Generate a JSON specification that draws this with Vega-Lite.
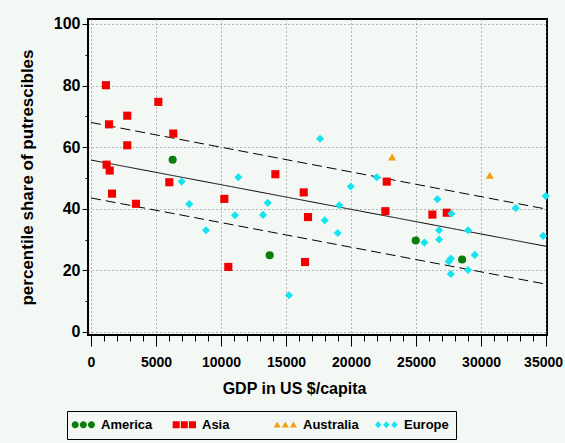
{
  "$schema": "https://vega.github.io/schema/vega-lite/v6.json",
  "width": 459,
  "height": 316,
  "autosize": "none",
  "padding": {"left": 88, "top": 19, "right": 18, "bottom": 108},
  "background": "#f4f8f5",
  "config": {
    "font": "Liberation Sans",
    "view": {"stroke": "#000", "strokeWidth": 2, "fill": "#f4f8f5"}
  },
  "datasets": {
    "pts": [
      {"gdp": 6280, "share": 55.9, "region": "America"},
      {"gdp": 13745, "share": 24.9, "region": "America"},
      {"gdp": 24975, "share": 29.7, "region": "America"},
      {"gdp": 28540, "share": 23.5, "region": "America"},
      {"gdp": 1150, "share": 80.1, "region": "Asia"},
      {"gdp": 5180, "share": 74.7, "region": "Asia"},
      {"gdp": 2790, "share": 70.2, "region": "Asia"},
      {"gdp": 1385, "share": 67.4, "region": "Asia"},
      {"gdp": 6330, "share": 64.4, "region": "Asia"},
      {"gdp": 2790, "share": 60.6, "region": "Asia"},
      {"gdp": 1200, "share": 54.3, "region": "Asia"},
      {"gdp": 1440, "share": 52.4, "region": "Asia"},
      {"gdp": 14180, "share": 51.2, "region": "Asia"},
      {"gdp": 6025, "share": 48.6, "region": "Asia"},
      {"gdp": 1615, "share": 44.9, "region": "Asia"},
      {"gdp": 3460, "share": 41.6, "region": "Asia"},
      {"gdp": 10255, "share": 43.2, "region": "Asia"},
      {"gdp": 16360, "share": 45.3, "region": "Asia"},
      {"gdp": 16690, "share": 37.3, "region": "Asia"},
      {"gdp": 10560, "share": 21.1, "region": "Asia"},
      {"gdp": 16460, "share": 22.7, "region": "Asia"},
      {"gdp": 22745, "share": 48.8, "region": "Asia"},
      {"gdp": 22640, "share": 39.2, "region": "Asia"},
      {"gdp": 26255, "share": 38.1, "region": "Asia"},
      {"gdp": 27360, "share": 38.7, "region": "Asia"},
      {"gdp": 23155, "share": 56.8, "region": "Australia"},
      {"gdp": 30670, "share": 50.9, "region": "Australia"},
      {"gdp": 17615, "share": 62.7, "region": "Europe"},
      {"gdp": 11330, "share": 50.2, "region": "Europe"},
      {"gdp": 6975, "share": 48.8, "region": "Europe"},
      {"gdp": 7560, "share": 41.5, "region": "Europe"},
      {"gdp": 8845, "share": 33.0, "region": "Europe"},
      {"gdp": 11075, "share": 37.9, "region": "Europe"},
      {"gdp": 13230, "share": 38.0, "region": "Europe"},
      {"gdp": 13590, "share": 41.9, "region": "Europe"},
      {"gdp": 17975, "share": 36.2, "region": "Europe"},
      {"gdp": 15230, "share": 11.9, "region": "Europe"},
      {"gdp": 21975, "share": 50.2, "region": "Europe"},
      {"gdp": 19975, "share": 47.2, "region": "Europe"},
      {"gdp": 19100, "share": 41.1, "region": "Europe"},
      {"gdp": 26640, "share": 43.1, "region": "Europe"},
      {"gdp": 27715, "share": 38.4, "region": "Europe"},
      {"gdp": 18975, "share": 32.1, "region": "Europe"},
      {"gdp": 26770, "share": 33.0, "region": "Europe"},
      {"gdp": 26770, "share": 30.0, "region": "Europe"},
      {"gdp": 29000, "share": 33.0, "region": "Europe"},
      {"gdp": 25640, "share": 29.0, "region": "Europe"},
      {"gdp": 27670, "share": 23.8, "region": "Europe"},
      {"gdp": 27515, "share": 22.9, "region": "Europe"},
      {"gdp": 29515, "share": 25.0, "region": "Europe"},
      {"gdp": 29000, "share": 20.1, "region": "Europe"},
      {"gdp": 27670, "share": 18.8, "region": "Europe"},
      {"gdp": 32670, "share": 40.2, "region": "Europe"},
      {"gdp": 34975, "share": 44.1, "region": "Europe"},
      {"gdp": 34770, "share": 31.2, "region": "Europe"}
    ],
    "lines": [
      {"gdp": 0, "share": 55.8, "band": "fit"},
      {"gdp": 35000, "share": 27.8, "band": "fit"},
      {"gdp": 0, "share": 68.0, "band": "upper"},
      {"gdp": 35000, "share": 39.9, "band": "upper"},
      {"gdp": 0, "share": 43.5, "band": "lower"},
      {"gdp": 35000, "share": 15.5, "band": "lower"}
    ]
  },
  "encoding": {
    "x": {
      "field": "gdp",
      "type": "quantitative",
      "scale": {"domain": [-230, 35070], "nice": false, "zero": false},
      "axis": {
        "title": "GDP in US $/capita",
        "values": [0,1000,2000,3000,4000,5000,6000,7000,8000,9000,10000,11000,12000,13000,14000,15000,16000,17000,18000,19000,20000,21000,22000,23000,24000,25000,26000,27000,28000,29000,30000,31000,32000,33000,34000,35000],
        "labelExpr": "datum.value % 5000 === 0 ? '' + datum.value : ''",
        "labelOverlap": false,
        "labelFlush": false,
        "labelBound": false,
        "labelOffset": {"condition": {"test": "datum.value === 35000", "value": -3}, "value": 0},
        "domain": false,
        "grid": true,
        "gridDash": [1, 3],
        "gridColor": "#777777",
        "gridWidth": 1,
        "gridOpacity": {"condition": {"test": "datum.value % 5000 === 0", "value": 1}, "value": 0},
        "tickSize": {"condition": {"test": "datum.value % 5000 === 0", "value": 11}, "value": 6},
        "tickColor": "#000",
        "tickWidth": 1,
        "labelFont": "Liberation Sans",
        "labelFontSize": 14,
        "labelFontWeight": "bold",
        "labelColor": "#000",
        "labelPadding": 9,
        "titleFont": "Liberation Sans",
        "titleFontSize": 16,
        "titleFontWeight": "bold",
        "titleColor": "#000",
        "titlePadding": 11,
        "titleX": 206,
        "titleAlign": "center"
      }
    },
    "y": {
      "field": "share",
      "type": "quantitative",
      "scale": {"domain": [-1, 101.6], "nice": false, "zero": false},
      "axis": {
        "title": "percentile share of putrescibles",
        "values": [0,10,20,30,40,50,60,70,80,90,100],
        "labelExpr": "datum.value % 20 === 0 ? '' + datum.value : ''",
        "labelOverlap": false,
        "labelFlush": false,
        "domain": false,
        "grid": true,
        "gridDash": [1, 3],
        "gridColor": "#777777",
        "gridWidth": 1,
        "gridOpacity": {"condition": {"test": "datum.value % 20 === 0", "value": 1}, "value": 0},
        "tickSize": {"condition": {"test": "datum.value % 20 === 0", "value": 6}, "value": 3},
        "tickColor": "#000",
        "tickWidth": 1,
        "labelFont": "Liberation Sans",
        "labelFontSize": 16,
        "labelFontWeight": "bold",
        "labelColor": "#000",
        "labelPadding": 2,
        "titleFont": "Liberation Sans",
        "titleFontSize": 17,
        "titleFontWeight": "bold",
        "titleColor": "#000",
        "titlePadding": 17
      }
    }
  },
  "resolve": {"scale": {"shape": "independent", "color": "independent"}, "legend": {"shape": "independent", "color": "independent"}},
  "layer": [
    {
      "data": {"name": "lines"},
      "mark": {"type": "line", "color": "#000", "strokeWidth": 1},
      "encoding": {
        "detail": {"field": "band", "type": "nominal"},
        "strokeDash": {
          "field": "band",
          "type": "nominal",
          "scale": {"domain": ["fit", "upper", "lower"], "range": [[1, 0], [10, 5], [10, 5]]},
          "legend": null
        }
      }
    },
    {
      "data": {"name": "pts"},
      "mark": {"type": "point", "filled": true, "size": 66, "opacity": 1},
      "encoding": {
        "color": {
          "field": "region",
          "type": "nominal",
          "scale": {"domain": ["America", "Asia", "Australia", "Europe"], "range": ["#0a7d0a", "#f00000", "#f0a010", "#14e4f0"]},
          "legend": null
        },
        "shape": {
          "field": "region",
          "type": "nominal",
          "scale": {"domain": ["America", "Asia", "Australia", "Europe"], "range": ["circle", "square", "triangle-up", "diamond"]},
          "legend": null
        }
      }
    },
    {
      "data": {"name": "pts"},
      "mark": {"type": "point", "filled": true, "size": 50, "opacity": 0},
      "encoding": {
        "color": {
          "field": "region",
          "type": "nominal",
          "scale": {"domain": ["America", "Asia", "Australia", "Europe"], "range": ["#0a7d0a", "#f00000", "#f0a010", "#14e4f0"]},
          "legend": {
            "title": null,
            "orient": "none",
            "legendX": -21,
            "legendY": 392,
            "direction": "horizontal",
            "columns": 4,
            "gridAlign": "all",
            "columnPadding": 12,
            "symbolSize": 50,
            "symbolOpacity": 1,
            "labelOffset": 14,
            "labelFont": "Liberation Sans",
            "labelFontSize": 13,
            "labelFontWeight": "bold",
            "labelColor": "#000",
            "strokeColor": "#000",
            "fillColor": "#f4f8f5",
            "padding": 7
          }
        },
        "shape": {
          "field": "region",
          "type": "nominal",
          "scale": {"domain": ["America", "Asia", "Australia", "Europe"], "range": ["M-0.5,0A1,1,0,1,1,-2.5,0A1,1,0,1,1,-0.5,0Z M1.8,0A1,1,0,1,1,-0.2,0A1,1,0,1,1,1.8,0Z M4.1,0A1,1,0,1,1,2.1,0A1,1,0,1,1,4.1,0Z", "M-2.5,-1H-0.5V1H-2.5Z M-0.2,-1H1.8V1H-0.2Z M2.1,-1H4.1V1H2.1Z", "M-1.5,-0.9L-0.5,0.8H-2.5Z M0.8,-0.9L1.8,0.8H-0.2Z M3.1,-0.9L4.1,0.8H2.1Z", "M-1.5,-1L-0.6,0L-1.5,1L-2.4,0Z M0.8,-1L1.7,0L0.8,1L-0.1,0Z M3.1,-1L4,0L3.1,1L2.2,0Z"]},
          "legend": {
            "title": null,
            "orient": "none",
            "legendX": -21,
            "legendY": 392,
            "direction": "horizontal",
            "columns": 4,
            "gridAlign": "all",
            "columnPadding": 12,
            "symbolSize": 50,
            "symbolOpacity": 1,
            "labelOffset": 14,
            "labelFont": "Liberation Sans",
            "labelFontSize": 13,
            "labelFontWeight": "bold",
            "labelColor": "#000",
            "strokeColor": "#000",
            "fillColor": "#f4f8f5",
            "padding": 7
          }
        }
      }
    }
  ]
}
